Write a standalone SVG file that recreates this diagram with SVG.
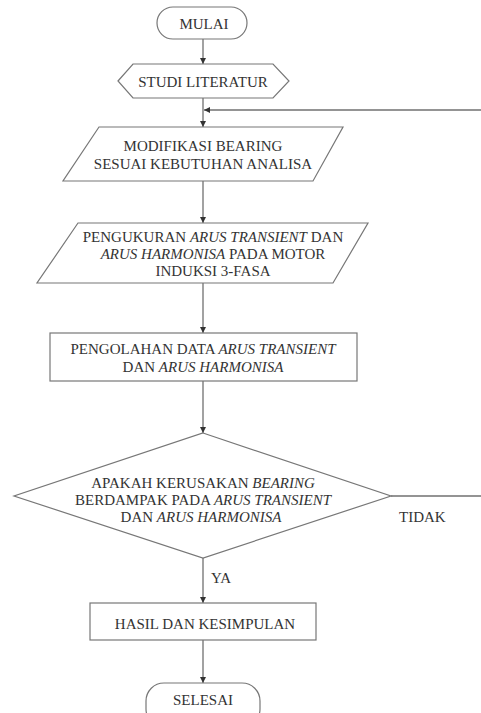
<svg xmlns="http://www.w3.org/2000/svg" width="481" height="713" viewBox="0 0 481 713">
<defs>
<marker id="arr" viewBox="0 0 10 10" refX="10" refY="5" markerWidth="6" markerHeight="6" markerUnits="userSpaceOnUse" orient="auto">
<path d="M0,0 L10,5 L0,10 z" fill="#333"/>
</marker>
<style>
.shape{fill:#fff;stroke:#777;stroke-width:1.2}
.line{fill:none;stroke:#707070;stroke-width:1.3}
text{font-family:'Liberation Serif','DejaVu Serif',serif;font-size:15px;fill:#333}
.t{text-anchor:middle}
.i{font-style:italic}
</style>
</defs>
<rect width="481" height="713" fill="#fff"/>
<g id="connectors">
<line class="line" x1="203" y1="39" x2="203" y2="64" marker-end="url(#arr)"/>
<line class="line" x1="203" y1="98" x2="203" y2="127" marker-end="url(#arr)"/>
<line class="line" x1="481" y1="110" x2="204" y2="110" marker-end="url(#arr)"/>
<line class="line" x1="203" y1="181" x2="203" y2="223" marker-end="url(#arr)"/>
<line class="line" x1="203" y1="283" x2="203" y2="333" marker-end="url(#arr)"/>
<line class="line" x1="203" y1="381" x2="203" y2="433" marker-end="url(#arr)"/>
<line class="line" x1="203" y1="558" x2="203" y2="603" marker-end="url(#arr)"/>
<line class="line" x1="203" y1="640" x2="203" y2="683" marker-end="url(#arr)"/>
<line class="line" x1="391" y1="496" x2="481" y2="496"/>
<text font-family="Liberation Serif, serif" x="399" y="522">TIDAK</text>
<text font-family="Liberation Serif, serif" x="211" y="583">YA</text>
</g>
<g id="mulai">
<rect class="shape" x="157" y="7" width="90" height="32" rx="16" ry="16"/>
<text class="t" font-family="Liberation Serif, serif" x="204" y="29">MULAI</text>
</g>
<g id="studi">
<polygon class="shape" points="118,81 133,64 273,64 289,81 273,98 133,98"/>
<text class="t" font-family="Liberation Serif, serif" x="203" y="87">STUDI LITERATUR</text>
</g>
<g id="modifikasi">
<polygon class="shape" points="99,127 343,127 313,181 63,181"/>
<text class="t" font-family="Liberation Serif, serif" x="203" y="151">MODIFIKASI BEARING</text>
<text class="t" font-family="Liberation Serif, serif" x="203" y="169">SESUAI KEBUTUHAN ANALISA</text>
</g>
<g id="pengukuran">
<polygon class="shape" points="78,223 368,223 333,283 37,283"/>
<text class="t" font-family="Liberation Serif, serif" x="213" y="242">PENGUKURAN <tspan class="i">ARUS TRANSIENT</tspan> DAN</text>
<text class="t" font-family="Liberation Serif, serif" x="213" y="259"><tspan class="i">ARUS HARMONISA</tspan> PADA MOTOR</text>
<text class="t" font-family="Liberation Serif, serif" x="213" y="276">INDUKSI 3-FASA</text>
</g>
<g id="pengolahan">
<rect class="shape" x="50" y="333" width="307" height="48"/>
<text class="t" font-family="Liberation Serif, serif" x="203" y="354">PENGOLAHAN DATA <tspan class="i">ARUS TRANSIENT</tspan></text>
<text class="t" font-family="Liberation Serif, serif" x="203" y="372">DAN <tspan class="i">ARUS HARMONISA</tspan></text>
</g>
<g id="keputusan">
<polygon class="shape" points="203,433 391,496 203,558 14,496"/>
<text class="t" font-family="Liberation Serif, serif" x="203" y="488">APAKAH KERUSAKAN <tspan class="i">BEARING</tspan></text>
<text class="t" font-family="Liberation Serif, serif" x="203" y="505">BERDAMPAK PADA <tspan class="i">ARUS TRANSIENT</tspan></text>
<text class="t" font-family="Liberation Serif, serif" x="201" y="522">DAN <tspan class="i">ARUS HARMONISA</tspan></text>
</g>
<g id="hasil">
<rect class="shape" x="90" y="603" width="226" height="37"/>
<text class="t" font-family="Liberation Serif, serif" x="205" y="629">HASIL DAN KESIMPULAN</text>
</g>
<g id="selesai">
<rect class="shape" x="146" y="683" width="114" height="44" rx="18" ry="18"/>
<text class="t" font-family="Liberation Serif, serif" x="203" y="705">SELESAI</text>
</g>
</svg>
